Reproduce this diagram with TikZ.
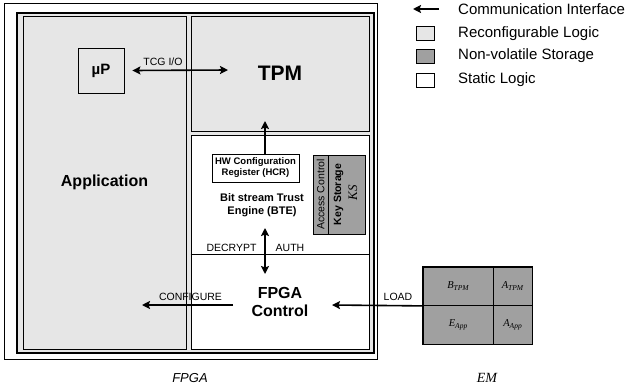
\documentclass[tikz,border=0pt]{standalone}
\usepackage{fontspec}
\setmainfont{Liberation Sans}
\newfontfamily\serifit{Liberation Serif}
\usetikzlibrary{arrows.meta}
\definecolor{reconf}{HTML}{E6E6E6}
\definecolor{nvstore}{HTML}{A0A0A0}
\newcommand{\fsz}[1]{\fontsize{#1}{#1}\selectfont}
\newcommand{\emlab}[2]{{\serifit\itshape\fsz{10.5}#1\raisebox{-1.5pt}{\fsz{7.5}#2}}}
\begin{document}
\begin{tikzpicture}[x=1pt,y=-1pt,
  arr/.style={line width=1.6pt,-{Stealth[length=8pt,width=8pt,inset=1.5pt]}},
  darr/.style={line width=1.6pt,{Stealth[length=8pt,width=8pt,inset=1.5pt]}-{Stealth[length=8pt,width=8pt,inset=1.5pt]}},
  blk/.style={draw,line width=0.8pt,inner sep=0pt,anchor=center},
  lbl/.style={inner sep=0pt,font=\fsz{10.5}},
  bigb/.style={font=\bfseries\fsz{16},align=center},
  legtxt/.style={inner sep=0pt,anchor=west,font=\fsz{15}}]
\useasboundingbox (0,0) rectangle (639,391);
% FPGA frames
\node[blk,minimum width=373pt,minimum height=356pt] (fpga) at (190.5,181) {};
\node[blk,fill=reconf,line width=1.2pt,minimum width=357pt,minimum height=340pt] (fab) at (195.5,183) {};
% Application
\node[blk,fill=reconf,minimum width=163pt,minimum height=333pt,font=\bfseries\fsz{16}] (app) at (104.5,182.5) {Application};
% TPM
\node[blk,fill=reconf,minimum width=178pt,minimum height=115pt,font=\bfseries\fsz{21}] (tpm) at (280,73.5) {TPM};
% static logic
\node[blk,fill=white,minimum width=178pt,minimum height=214pt] (bte) at (280,242) {};
\draw[line width=0.8pt] (bte.west |- 0,254) coordinate (splitL) -- (bte.east |- 0,254) coordinate (splitR);
% muP
\node[blk,fill=reconf,minimum width=46pt,minimum height=45pt,font=\bfseries\fsz{15}] (mup) at (101,70.5) {µP};
% HCR
\node[blk,fill=white,minimum width=87pt,minimum height=28pt,align=center,font=\bfseries\fsz{9.5}] (hcr) at (255.5,168) {HW Configuration\\[1.5pt]Register (HCR)};
\node[inner sep=0pt,align=center,font=\bfseries\fsz{11}] (btelbl) at (262,205) {Bit stream Trust\\[2pt]Engine (BTE)};
% Key storage
\node[blk,fill=nvstore,minimum width=15pt,minimum height=79pt] (acc) at (320.5,194.5) {};
\node[blk,fill=nvstore,minimum width=37pt,minimum height=79pt] (ks) at (346.5,194.5) {};
\node[rotate=90,inner sep=0pt,font=\fsz{10.5}] at (320.5,194.5) {Access Control};
\node[rotate=90,inner sep=0pt,font=\bfseries\fsz{10.5}] at (338.5,194.5) {Key Storage};
\node[rotate=90,inner sep=0pt,font=\serifit\itshape\fsz{13}] at (353,193) {KS};
% FPGA control
\node[bigb,inner sep=0pt] (ctrl) at (280,302) {FPGA\\[2pt]Control};
% labels
\node[lbl] (tcg) at (163,62) {TCG I/O};
\node[lbl] (decr) at (231.5,248) {DECRYPT};
\node[lbl] (auth) at (290,248) {AUTH};
\node[lbl] (conf) at (190.5,297) {CONFIGURE};
\node[lbl] (load) at (398,297) {LOAD};
% EM
\node[blk,fill=nvstore,minimum width=70pt,minimum height=38.5pt] (b) at (458,286.25) {\emlab{B}{TPM}};
\node[blk,fill=nvstore,minimum width=39pt,minimum height=38.5pt] (a) at (512.5,286.25) {\emlab{A}{TPM}};
\node[blk,fill=nvstore,minimum width=70pt,minimum height=38.5pt] (e) at (458,324.75) {\emlab{E}{App}};
\node[blk,fill=nvstore,minimum width=39pt,minimum height=38.5pt] (aa) at (512.5,324.75) {\emlab{A}{App}};
\draw[line width=1.2pt] (b.north west) rectangle (aa.south east);
\node[inner sep=0pt,font=\serifit\itshape\fsz{14}] (emname) at (487,378) {EM};
\node[inner sep=0pt,font=\itshape\fsz{13}] (fpganame) at (190,378) {FPGA};
% connectors
\coordinate (tcgL) at ([xshift=8pt]mup.east);
\coordinate (tcgR) at (228,70);
\draw[darr] (tcgL) -- (tcgR);
\coordinate (hcrtop) at (265,154);
\coordinate (tpmin) at (265,121);
\draw[arr] (hcrtop) -- (tpmin);
\coordinate (bteA) at (265,228);
\coordinate (bteB) at (265,274);
\draw[darr] (bteA) -- (bteB);
\coordinate (confA) at (233,305);
\coordinate (confB) at (142,305);
\draw[arr] (confA) -- (confB);
\coordinate (loadB) at (332,305);
\draw[arr] (b.south west) -- (loadB);
% legend
\coordinate (lgA) at (439,9);
\coordinate (lgB) at (413,9);
\draw[arr] (lgA) -- (lgB);
\node[legtxt] (l1) at (458,9) {Communication Interface};
\node[blk,fill=reconf,minimum width=18pt,minimum height=14pt] (s2) at (425,33.5) {};
\node[legtxt] (l2) at (458,33.5) {Reconfigurable Logic};
\node[blk,fill=nvstore,minimum width=18pt,minimum height=14pt] (s3) at (425,56) {};
\node[legtxt] (l3) at (458,56) {Non-volatile Storage};
\node[blk,fill=white,minimum width=18pt,minimum height=14pt] (s4) at (425,80) {};
\node[legtxt] (l4) at (458,80) {Static Logic};
\end{tikzpicture}
\end{document}
